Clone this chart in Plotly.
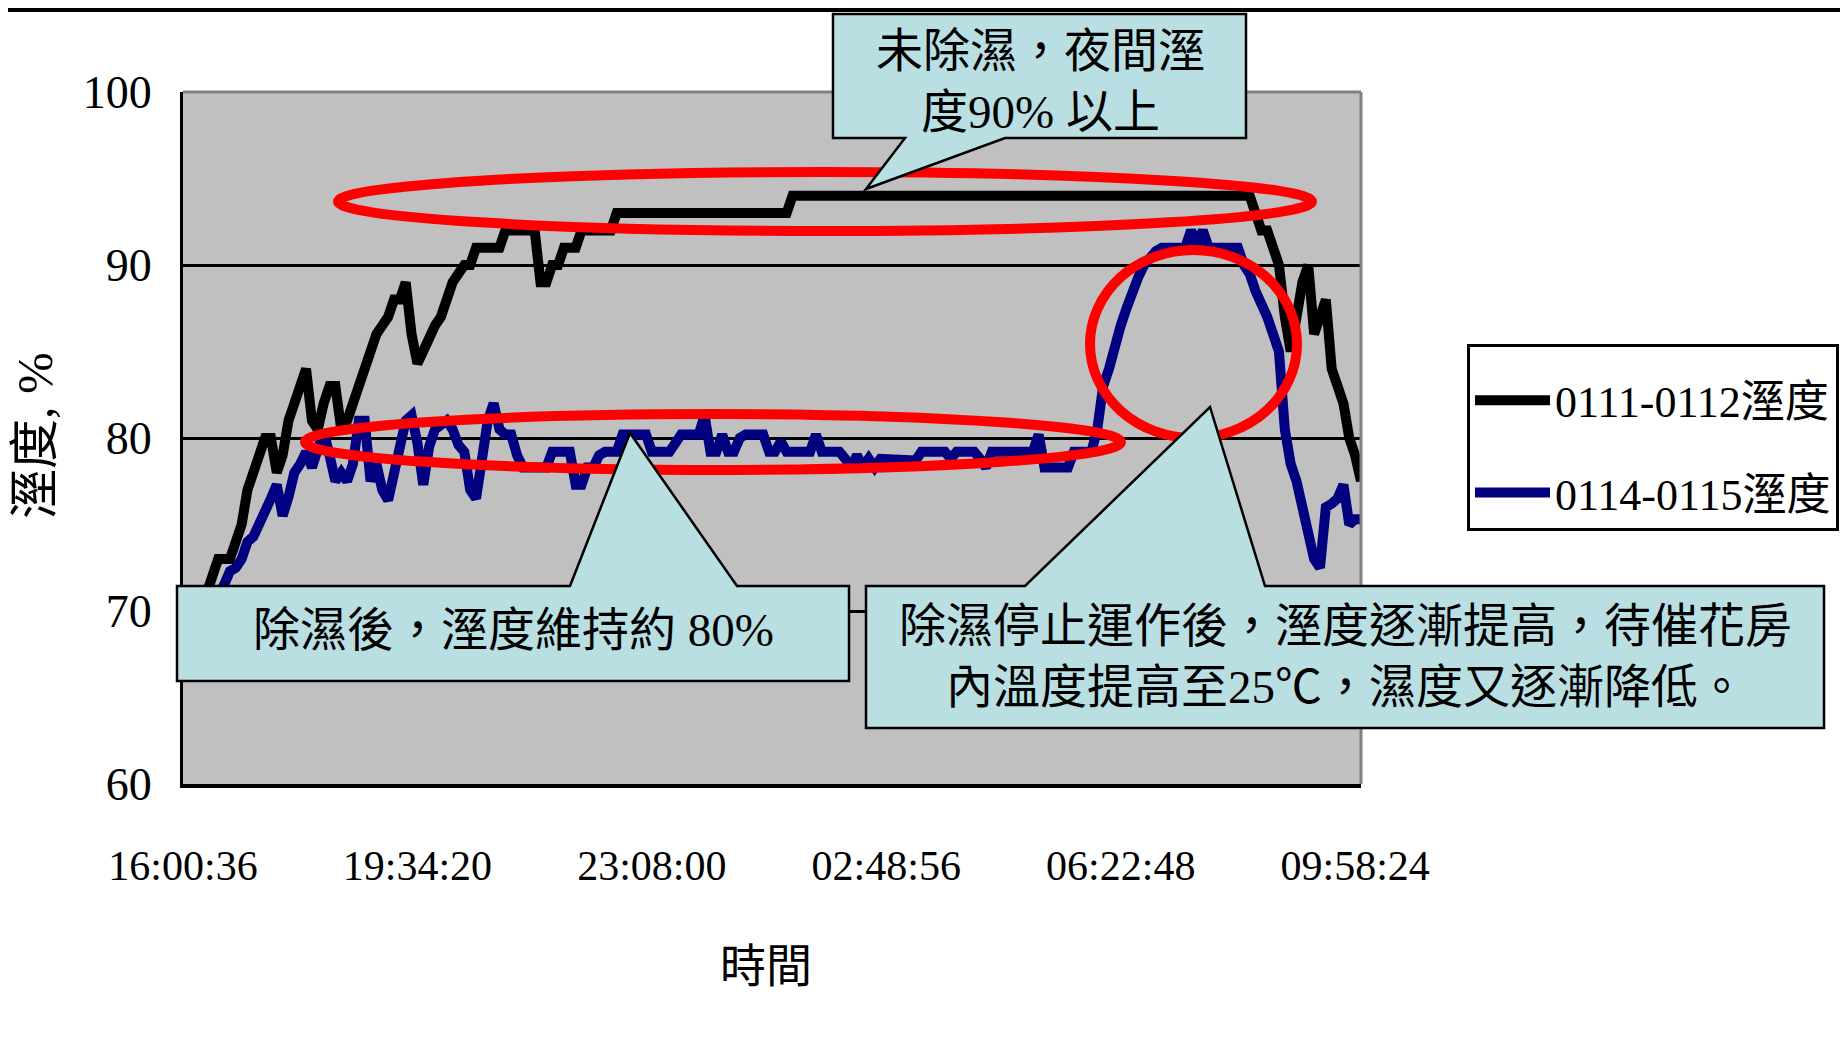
import plotly.graph_objects as go

# ---------------- data ----------------
x_tickvals = [0, 40, 80, 120, 160, 200]
x_ticktext = ["16:00:36", "19:34:20", "23:08:00", "02:48:56", "06:22:48", "09:58:24"]
y_tickvals = [60, 70, 80, 90, 100]

series_names = ["0111-0112溼度", "0114-0115溼度"]

humid_0111 = [
    67, 68, 69, 70, 71, 72, 73, 73, 73, 74,
    75, 77, 78, 79, 80, 80, 78, 79, 81, 82,
    83, 84, 81, 80.5, 82, 83, 83, 80.5, 81, 82,
    83, 84, 85, 86, 86.5, 87, 88, 88, 89, 86,
    84.3, 85, 86, 86.5, 87, 88, 89, 89.5, 90, 90,
    91, 91, 91, 91, 91, 92, 92, 92, 92, 92,
    92, 89, 89, 90, 90, 91, 91, 91, 92, 92,
    92, 92, 92, 92, 93, 93, 93, 93, 93, 93,
    93, 93, 93, 93, 93, 93, 93, 93, 93, 93,
    93, 93, 93, 93, 93, 93, 93, 93, 93, 93,
    93, 93, 93, 93, 94, 94, 94, 94, 94, 94,
    94, 94, 94, 94, 94, 94, 94, 94, 94, 94,
    94, 94, 94, 94, 94, 94, 94, 94, 94, 94,
    94, 94, 94, 94, 94, 94, 94, 94, 94, 94,
    94, 94, 94, 94, 94, 94, 94, 94, 94, 94,
    94, 94, 94, 94, 94, 94, 94, 94, 94, 94,
    94, 94, 94, 94, 94, 94, 94, 94, 94, 94,
    94, 94, 94, 94, 94, 94, 94, 94, 94, 94,
    94, 94, 94, 93, 92, 92, 91, 90, 87, 85,
    87, 89, 90, 86, 87, 88, 84, 83, 82, 80,
    79, 77.5,
]

humid_0114 = [
    66, 67, 68, 69, 70, 70.5, 71, 71.5, 72.3, 72.5,
    73, 74, 74.3, 75, 75.5, 76.5, 77.3, 75.5, 76.6, 78,
    78.5, 79.2, 78.3, 79.5, 80.4, 79, 77.5, 78, 77.5, 78.5,
    81, 81, 77.5, 78.5, 77, 76.4, 78, 79.4, 81, 81.3,
    79.7, 77.3, 79.5, 80.5, 80.8, 81, 80.5, 79.6, 79.2, 77,
    76.5, 78.5, 81, 82, 80.5, 80.2, 80.2, 79, 78.3, 78.3,
    78.3, 78.3, 78.3, 79.2, 79.2, 79.2, 79.2, 77.3, 77.3, 78.3,
    78.3, 79, 79.2, 79.2, 79.2, 80.2, 80.2, 80.2, 80.2, 80.2,
    79.2, 79.2, 79.2, 79.2, 79.7, 80.2, 80.2, 80.2, 80.2, 81.3,
    79.2, 79.2, 80.2, 79.2, 79.2, 80, 80.2, 80.2, 80.2, 80.2,
    79.2, 79.2, 79.8, 79.2, 79.2, 79.2, 79.2, 79.2, 80.2, 79.2,
    79.2, 79.2, 79.2, 78.8, 78.3, 79, 78.3, 78.8, 78.3, 78.8,
    78.8, 78.7, 78.7, 78.7, 78.7, 78.7, 79.2, 79.2, 79.2, 79.2,
    79.2, 78.8, 79.2, 79.2, 79.2, 79.2, 78.8, 78.3, 79.2, 79.2,
    79.2, 79.2, 79.2, 79.2, 79.2, 79.2, 80.2, 78.3, 78.3, 78.3,
    78.3, 78.3, 79.2, 79.2, 79.2, 79.2, 80.5, 83, 84, 85.5,
    86.5, 87.5, 88.5, 89.3, 90, 90.5, 90.8, 91, 91, 91,
    91, 91, 92, 91.2, 92, 91, 91, 91, 91, 91,
    91, 90, 89.5, 88.5, 87.8, 87, 86, 85, 80.5, 78.5,
    77.5, 75.8, 74.2, 73, 72.5, 76, 76.2, 76.5, 77.3, 75,
    75.3, 75.3,
]

x_index = list(range(len(humid_0111)))

callout_top_text = "未除濕，夜間溼<br>度90% 以上"
callout_left_text = "除濕後，溼度維持約 80%"
callout_right_text = "除濕停止運作後，溼度逐漸提高，待催花房<br>內溫度提高至25℃，濕度又逐漸降低。"
x_title = "時間"
y_title = "溼度, %"

# ---------------- layout helpers ----------------
PAGE_W, PAGE_H = 1848, 1047
OFF = 8  # default body margin of the page
W, H = PAGE_W - OFF, PAGE_H - OFF
L, R, T, B = 183, 1361, 92, 784  # plot area, in page pixels
FONT = "Liberation Serif, Noto Sans CJK TC, serif"
CALLOUT_FILL = "#B9DFE3"


def px_x(x):
    return (x - L) / (R - L)


def px_y(y):
    return (B - y) / (B - T)


def path(points):
    return "M " + " L ".join(f"{px_x(x):.5f},{px_y(y):.5f}" for x, y in points) + " Z"


fig = go.Figure()
fig.add_trace(go.Scatter(
    x=x_index, y=humid_0111, mode="lines", name=series_names[0],
    line=dict(color="#000000", width=10), legendgroup="a",
))
fig.add_trace(go.Scatter(
    x=x_index, y=humid_0114, mode="lines", name=series_names[1],
    line=dict(color="#000080", width=10), legendgroup="b",
))

shapes = []
# page top rule
shapes.append(dict(type="line", xref="paper", yref="paper",
                   x0=px_x(OFF), x1=px_x(PAGE_W), y0=px_y(10), y1=px_y(10),
                   line=dict(color="black", width=4), layer="above"))
# plot frame top/right (gray)
shapes.append(dict(type="line", xref="paper", yref="paper",
                   x0=0, x1=1, y0=1, y1=1, line=dict(color="#808080", width=3), layer="above"))
shapes.append(dict(type="line", xref="paper", yref="paper",
                   x0=1, x1=1, y0=0, y1=1, line=dict(color="#808080", width=3), layer="above"))

# red ellipses
for (x0, y0, x1, y1) in [(338, 172, 1312, 231), (305, 414, 1121, 470), (1090, 250, 1297, 438)]:
    shapes.append(dict(type="circle", xref="paper", yref="paper",
                       x0=px_x(x0), x1=px_x(x1), y0=px_y(y1), y1=px_y(y0),
                       line=dict(color="#FF0000", width=10), layer="above"))

# callouts
callouts = [
    [(833, 14), (1246, 14), (1246, 138), (1005, 138), (866, 189), (905, 138), (833, 138)],
    [(177, 586), (570, 586), (630, 433), (737, 586), (849, 586), (849, 681), (177, 681)],
    [(866, 586), (1025, 586), (1210, 407), (1265, 586), (1824, 586), (1824, 728), (866, 728)],
]
for pts in callouts:
    shapes.append(dict(type="path", xref="paper", yref="paper", path=path(pts),
                       fillcolor=CALLOUT_FILL, line=dict(color="black", width=2.5), layer="above"))


def ann(text, x, y, size, **kw):
    return dict(text=text, x=px_x(x), y=px_y(y), xref="paper", yref="paper",
                xanchor="center", yanchor="middle", showarrow=False,
                font=dict(family=FONT, size=size, color="black"), align="center", **kw)


annotations = [
    ann(callout_top_text, 1040, 82, 47),
    ann(callout_left_text, 513, 630, 47),
    ann(callout_right_text, 1345, 656, 47),
    ann(x_title, 766, 966, 46),
    ann(y_title, 35, 436, 50, textangle=-90),
]

fig.update_layout(
    width=W, height=H,
    margin=dict(l=L - OFF, r=PAGE_W - R, t=T - OFF, b=PAGE_H - B, autoexpand=False),
    paper_bgcolor="white", plot_bgcolor="#C0C0C0",
    shapes=shapes, annotations=annotations,
    showlegend=True,
    legend=dict(x=px_x(1467), y=px_y(344), xanchor="left", yanchor="top",
                bgcolor="white", bordercolor="black", borderwidth=3,
                font=dict(family=FONT, size=44, color="black"),
                title=dict(text=" ", font=dict(size=14)),
                tracegroupgap=32, itemwidth=75),
    xaxis=dict(range=[0, 201], tickvals=x_tickvals, ticktext=x_ticktext,
               showgrid=False, zeroline=False, showline=True, linecolor="black", linewidth=4,
               ticks="outside", ticklen=42, tickcolor="rgba(0,0,0,0)",
               tickfont=dict(family=FONT, size=42, color="black")),
    yaxis=dict(range=[60, 100], tickvals=y_tickvals,
               showgrid=True, gridcolor="black", gridwidth=2.5, zeroline=False,
               showline=True, linecolor="black", linewidth=3,
               ticks="outside", ticklen=19, tickcolor="rgba(0,0,0,0)",
               tickfont=dict(family=FONT, size=46, color="black")),
)

fig.write_html("out.html")
